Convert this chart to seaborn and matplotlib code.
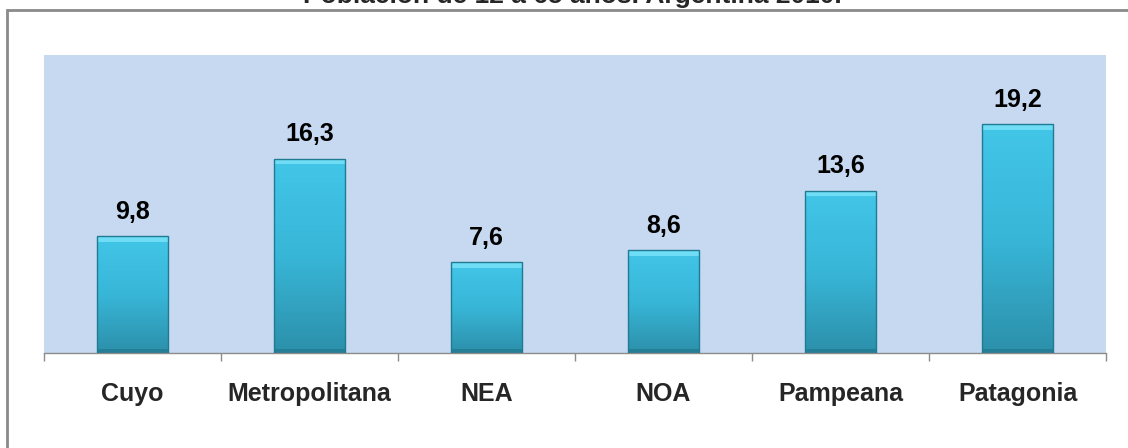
import numpy as np
import matplotlib
matplotlib.use("Agg")
import matplotlib.pyplot as plt
import seaborn as sns
from matplotlib.colors import LinearSegmentedColormap
from matplotlib.patches import Rectangle

# Data
regiones = ["Cuyo", "Metropolitana", "NEA", "NOA", "Pampeana", "Patagonia"]
valores = [9.8, 16.3, 7.6, 8.6, 13.6, 19.2]
titulo = "Población de 12 a 65 años. Argentina 2010."

sns.set_style("white")
plt.rcParams["font.family"] = ["Liberation Sans", "DejaVu Sans"]

fig = plt.figure(figsize=(11.28, 4.48), dpi=100)
ax = fig.add_axes([44 / 1128, 1 - 353 / 448, 1062 / 1128, 298 / 448])

sns.barplot(x=regiones, y=valores, color="#35B3D3", width=0.4,
            edgecolor="#1F7A92", linewidth=1, ax=ax, zorder=3)

ax.set_xlim(-0.5, len(regiones) - 0.5)
ax.set_ylim(0, 25)
ax.set_facecolor("#C6D9F0")

# gradient fill for bars
grad = LinearSegmentedColormap.from_list("g", ["#42C6E8", "#38B6D8", "#2C90AA"])
arr = np.linspace(0, 1, 200).reshape(-1, 1)
for p in ax.patches:
    x, y = p.get_x(), p.get_y()
    w, h = p.get_width(), p.get_height()
    p.set_facecolor("none")
    im = ax.imshow(arr, extent=[x, x + w, y, y + h], aspect="auto",
                   cmap=grad, zorder=2, interpolation="bicubic")
    im.set_clip_path(p)
    # lighter top bevel, darker base
    ax.add_patch(Rectangle((x, h - 0.45), w, 0.45, facecolor="#6FDDF5",
                           edgecolor="none", zorder=2.5))
    ax.add_patch(Rectangle((x, 0), w, 0.3, facecolor="#247E96",
                           edgecolor="none", zorder=2.5))

ax.set_xlim(-0.5, len(regiones) - 0.5)
ax.set_ylim(0, 25)

for i, v in enumerate(valores):
    ax.annotate(f"{v:.1f}".replace(".", ","), (i, v), xytext=(0, 9),
                textcoords="offset points", ha="center", va="bottom",
                fontsize=18, fontweight="bold", color="black")

for s in ["top", "right", "left"]:
    ax.spines[s].set_visible(False)
ax.spines["bottom"].set_color("#8C8C8C")
ax.spines["bottom"].set_linewidth(1)

ax.set_yticks([])
ax.set_xticks(range(len(regiones)))
ax.set_xticklabels(regiones, fontsize=18, fontweight="bold")
ax.set_xticks(np.arange(-0.5, len(regiones)), minor=True)
ax.tick_params(axis="x", which="major", length=0, pad=21)
ax.tick_params(axis="x", which="minor", length=6, width=1, color="#8C8C8C",
               direction="out", bottom=True)
ax.set_xlabel("")
ax.set_ylabel("")

# outer frame
frame = Rectangle((7 / 1128, -0.1), 1.2, 1 - 10 / 448 + 0.1,
                  transform=fig.transFigure, fill=False,
                  edgecolor="#8A8A8A", linewidth=2)
fig.add_artist(frame)

fig.text(572 / 1128, 1 - 3 / 448, titulo, ha="center", va="baseline",
         fontsize=19, fontweight="bold")

fig.savefig("out.png", dpi=100)
